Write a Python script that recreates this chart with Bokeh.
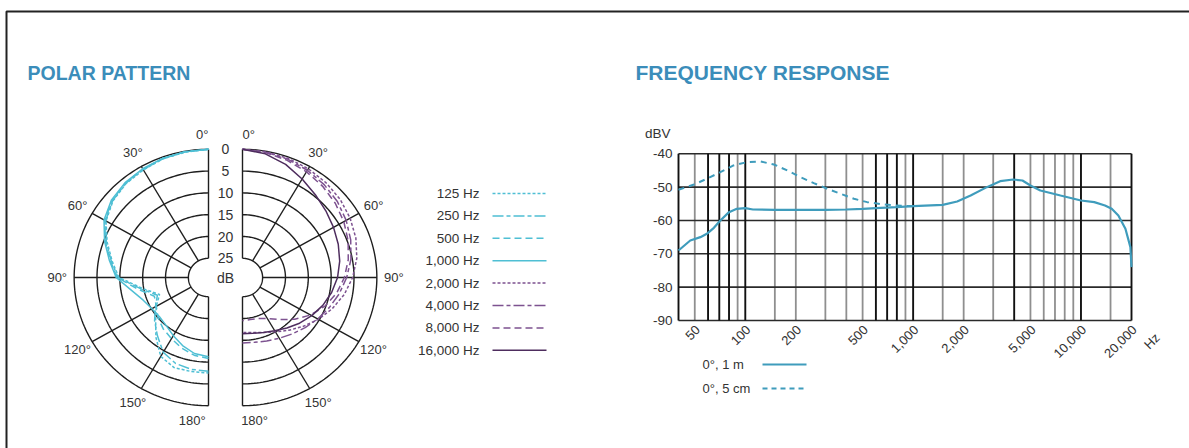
import math
import numpy as np
from bokeh.plotting import figure
from bokeh.models import Range1d, LogScale, LinearScale
from bokeh.core.properties import value
from bokeh.embed import file_html
from bokeh.resources import INLINE

# ---------------- polar pattern: attenuation in dB, per angle ----------------
pp_angles = [0, 10, 20, 30, 40, 50, 60, 70, 80, 90, 100, 110, 120, 130, 140, 150, 160, 170, 180]

pp_125 = [0, 0.2, 0.4, 0.9, 1.3, 2.1, 3.5, 5.8, 8.0, 9.8, 14.8, 18.0, 16.2, 14.3, 11.5, 8.5, 7.4, 7.5, 7.5]
pp_250 = [0, 0.1, 0.4, 0.8, 1.2, 2.0, 3.4, 5.6, 7.8, 9.6, 14.4, 17.5, 16.0, 14.0, 12.0, 9.6, 8.4, 8.0, 7.9]
pp_500 = [0, 0.1, 0.3, 0.7, 1.1, 1.9, 3.2, 5.4, 7.6, 9.4, 13.8, 16.8, 16.2, 15.0, 14.0, 13.2, 12.2, 11.3, 10.8]
pp_1000 = [0, 0.1, 0.3, 0.6, 1.0, 1.7, 3.0, 5.2, 7.4, 9.2, 12.3, 14.2, 15.1, 15.4, 15.0, 14.0, 12.8, 11.7, 11.2]

pp_2000 = [0, 0.1, 0.3, 0.6, 1.0, 1.5, 2.2, 3.0, 4.0, 5.3, 6.8, 8.5, 10.2, 12.0, 13.6, 15.0, 16.0, 16.6, 16.8]
pp_4000 = [0, 0.2, 0.5, 1.0, 1.6, 2.3, 3.2, 4.2, 5.3, 6.6, 7.9, 9.2, 10.4, 11.5, 12.5, 13.3, 13.9, 14.3, 14.4]
pp_8000 = [0, 0.3, 0.8, 1.4, 2.1, 2.9, 3.8, 4.8, 5.9, 7.1, 8.5, 10.2, 12.2, 14.5, 16.8, 18.5, 19.4, 19.6, 19.5]
pp_16000 = [0, 0.6, 1.8, 3.3, 4.6, 5.6, 6.4, 7.1, 7.8, 8.6, 9.6, 10.7, 11.9, 13.1, 14.3, 15.3, 16.0, 16.4, 16.5]

pp_labels = ["125 Hz", "250 Hz", "500 Hz", "1,000 Hz",
             "2,000 Hz", "4,000 Hz", "8,000 Hz", "16,000 Hz"]
pp_rings_db = [0, 5, 10, 15, 20, 25]
pp_spokes_deg = [0, 30, 60, 90, 120, 150, 180]

# ---------------- frequency response ----------------
fr_hz_1m = [40, 47, 54, 59, 65, 71, 80, 89, 100, 111, 150, 200, 300, 400, 500, 640, 800,
            1000, 1500, 1830, 2200, 2750, 3300, 3950, 4480, 5000, 5730, 7550, 10000,
            12000, 13900, 15250, 16700, 18400, 19700, 20000]
fr_db_1m = [-69, -66, -65, -64, -62.2, -60, -57.5, -56.5, -56.3, -56.7, -56.8, -56.8, -56.8,
            -56.7, -56.5, -56.2, -56.0, -55.7, -55.3, -54.3, -52.5, -50.0, -48.2, -47.7,
            -48.0, -49.5, -51.0, -52.5, -54.0, -54.5, -55.5, -56.5, -58.5, -62.5, -68.0, -74.0]

fr_hz_5cm = [40, 49, 59, 71, 85, 102, 123, 148, 178, 213, 256, 308, 370, 444, 533, 670, 850, 1000]
fr_db_5cm = [-50.8, -49.3, -47.5, -45.5, -43.5, -42.5, -42.3, -43.2, -45.0, -47.0, -48.8,
             -50.5, -52.0, -53.5, -54.5, -55.2, -55.6, -55.7]

fr_tick_hz = [50, 100, 200, 500, 1000, 2000, 5000, 10000, 20000]
fr_tick_labels = ["50", "100", "200", "500", "1,000", "2,000", "5,000", "10,000", "20,000"]
fr_db_ticks = [-40, -50, -60, -70, -80, -90]
fr_grid_dark = [40, 60, 70, 80, 100, 600, 700, 800, 1000, 4000, 10000, 20000]
fr_grid_light = [50, 90, 150, 200, 300, 400, 500, 900, 1500, 2000, 3000, 5000, 6000,
                 7000, 8000, 9000, 15000]
fr_hz_min, fr_hz_max = 40, 20000
fr_db_min, fr_db_max = -90, -40
fr_legend = ["0°, 1 m", "0°, 5 cm"]

# ---------------- page geometry ----------------
W, H = 1189, 448
FONT = value("Liberation Sans")
TXT = "#333333"
GRID = "#1e1e1e"
TITLE = "#3b8dba"
CYAN = "#4fbfd4"
PURPLE = "#7d5290"
PURPLE_DARK = "#4e2d5e"
FR_LINE = "#3f9cbc"

# polar layout (pixels) : centre of the left half, px per dB, gap between halves
CX, CY = 208, 277
KX, KY = 4.57, 4.36
R_IN = 4.4
R_OUT = R_IN + 25
GAP = 34 / KX

# frequency plot frame (pixels)
FR_L, FR_R, FR_T, FR_B = 678, 1131, 153.3, 320

p = figure(width=W, height=H, x_range=Range1d(0, W), y_range=Range1d(H, 0),
           output_backend="svg", toolbar_location=None, min_border=0,
           x_axis_location=None, y_axis_location=None)
p.outline_line_color = None
p.background_fill_color = "white"
p.border_fill_color = "white"
for g in p.grid:
    g.visible = False

lg = math.log10
dec_px = (FR_R - FR_L) / (lg(fr_hz_max) - lg(fr_hz_min))
db_px = (FR_B - FR_T) / (fr_db_max - fr_db_min)
p.extra_x_ranges = {
    "freq": Range1d(10 ** (lg(fr_hz_min) - FR_L / dec_px), 10 ** (lg(fr_hz_max) + (W - FR_R) / dec_px)),
    "polar": Range1d(-CX / KX, (W - CX) / KX),
}
p.extra_x_scales = {"freq": LogScale(), "polar": LinearScale()}
p.extra_y_ranges = {
    "db": Range1d(fr_db_min - (H - FR_B) / db_px, fr_db_max + FR_T / db_px),
    "polar": Range1d(-(H - CY) / KY, CY / KY),
}
PR = dict(x_range_name="polar", y_range_name="polar")
FQ = dict(x_range_name="freq", y_range_name="db")

# ---- page frame ----
p.line([6, 6, W], [H, 11, 11], line_color="#222222", line_width=2)

# ---- titles ----
p.text(x=[27], y=[72], text=["POLAR PATTERN"],
       text_font=FONT, text_font_style="bold", text_font_size="19.5px",
       text_color=TITLE, text_baseline="middle", text_align="left")
p.text(x=[635], y=[72], text=["FREQUENCY RESPONSE"],
       text_font=FONT, text_font_style="bold", text_font_size="21px",
       text_color=TITLE, text_baseline="middle", text_align="left")


# ---- polar grid ----
def to_xy(angles_deg, dbs, side):
    th = np.radians(np.asarray(angles_deg, dtype=float))
    r = R_IN + (25 - np.asarray(dbs, dtype=float))
    x = side * r * np.sin(th) + (GAP if side > 0 else 0.0)
    y = r * np.cos(th)
    return x, y


arc_deg = np.linspace(0, 180, 121)
for side in (-1, 1):
    for d in pp_rings_db:
        x, y = to_xy(arc_deg, np.full_like(arc_deg, d), side)
        p.line(x, y, line_color=GRID, line_width=1.4, **PR)
    x0, y0 = to_xy(pp_spokes_deg, [25] * len(pp_spokes_deg), side)
    x1, y1 = to_xy(pp_spokes_deg, [0] * len(pp_spokes_deg), side)
    p.segment(x0, y0, x1, y1, line_color=GRID, line_width=1.4, **PR)

# ---- polar curves ----
pp_series = [
    (pp_125, -1, CYAN, "3 2"),
    (pp_250, -1, CYAN, "11 3 4 3"),
    (pp_500, -1, CYAN, "7 4"),
    (pp_1000, -1, CYAN, "solid"),
    (pp_2000, 1, PURPLE, "3 2"),
    (pp_4000, 1, PURPLE, "11 3 4 3"),
    (pp_8000, 1, PURPLE, "7 4"),
    (pp_16000, 1, PURPLE_DARK, "solid"),
]
for vals, side, col, dash in pp_series:
    x, y = to_xy(pp_angles, vals, side)
    p.line(x, y, line_color=col, line_width=1.5, line_dash=dash, **PR)

# ring values between the halves
ring_y = [R_IN + 25 - d for d in pp_rings_db]
p.text(x=[GAP / 2] * (len(pp_rings_db) + 1), y=ring_y + [0.0],
       text=[str(d) for d in pp_rings_db] + ["dB"], text_font=FONT, text_font_size="14px",
       text_color=TXT, text_align="center", text_baseline="middle", **PR)

# angle labels
lab_r = R_OUT + 3.7
mid = [30, 60, 90, 120, 150]
th = np.radians(mid)
p.text(x=list(-lab_r * np.sin(th)) + list(GAP + lab_r * np.sin(th)),
       y=list(lab_r * np.cos(th)) * 2,
       text=[f"{a}°" for a in mid] * 2, text_font=FONT, text_font_size="13px",
       text_color=TXT, text_align="center", text_baseline="middle", **PR)
p.text(x=[0, -0.6], y=[R_OUT + 3.3, -(R_OUT + 3.3)], text=["0°", "180°"],
       text_font=FONT, text_font_size="13px", text_color=TXT,
       text_align="right", text_baseline="middle", **PR)
p.text(x=[GAP, GAP - 0.3], y=[R_OUT + 3.3, -(R_OUT + 3.3)], text=["0°", "180°"],
       text_font=FONT, text_font_size="13px", text_color=TXT,
       text_align="left", text_baseline="middle", **PR)

# polar legend
leg_y = [193 + i * 22.4 for i in range(len(pp_series))]
p.text(x=[479] * len(leg_y), y=leg_y, text=pp_labels, text_font=FONT, text_font_size="13.5px",
       text_color=TXT, text_align="right", text_baseline="middle")
for (vals, side, col, dash), yy in zip(pp_series, leg_y):
    p.line([492, 546], [yy, yy], line_color=col, line_width=1.5, line_dash=dash)

# ---- frequency response grid ----
n = len(fr_grid_light)
p.segment(fr_grid_light, [fr_db_min] * n, fr_grid_light, [fr_db_max] * n,
          line_color="#8f8f8f", line_width=1.8, **FQ)
n = len(fr_db_ticks)
p.segment([fr_hz_min] * n, fr_db_ticks, [fr_hz_max] * n, fr_db_ticks,
          line_color="#2a2a2a", line_width=1.6, **FQ)
n = len(fr_grid_dark)
p.segment(fr_grid_dark, [fr_db_min] * n, fr_grid_dark, [fr_db_max] * n,
          line_color="#111111", line_width=1.9, **FQ)

# curves
p.line(fr_hz_5cm, fr_db_5cm, line_color=FR_LINE, line_width=2, line_dash="6 5", **FQ)
p.line(fr_hz_1m, fr_db_1m, line_color=FR_LINE, line_width=2.2, **FQ)

# axis labels
p.text(x=[fr_hz_min] * len(fr_db_ticks), y=fr_db_ticks, text=[str(v) for v in fr_db_ticks],
       x_offset=-6, text_font=FONT, text_font_size="13.5px", text_color=TXT,
       text_align="right", text_baseline="middle", **FQ)
p.text(x=[fr_hz_min], y=[fr_db_max], text=["dBV"], x_offset=-8, y_offset=-20,
       text_font=FONT, text_font_size="13.5px", text_color=TXT,
       text_align="right", text_baseline="middle", **FQ)
p.text(x=fr_tick_hz, y=[fr_db_min] * len(fr_tick_hz), text=fr_tick_labels,
       x_offset=3, y_offset=7, angle=math.pi / 4, text_font=FONT, text_font_size="13px",
       text_color=TXT, text_align="right", text_baseline="middle", **FQ)
p.text(x=[fr_hz_max], y=[fr_db_min], text=["Hz"], x_offset=26, y_offset=15,
       angle=math.pi / 4, text_font=FONT, text_font_size="13px", text_color=TXT,
       text_align="right", text_baseline="middle", **FQ)

# frequency legend
p.text(x=[702, 702], y=[364, 388], text=fr_legend, text_font=FONT, text_font_size="13px",
       text_color=TXT, text_align="left", text_baseline="middle")
p.line([762, 806], [364, 364], line_color=FR_LINE, line_width=1.8)
p.line([762, 806], [388, 388], line_color=FR_LINE, line_width=1.8, line_dash="5 4")

open("out.html", "w").write(file_html(p, INLINE))
